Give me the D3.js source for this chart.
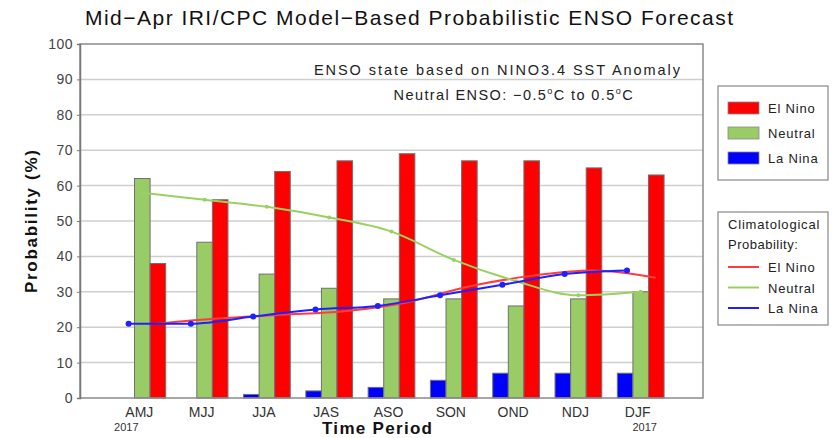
<!DOCTYPE html>
<html>
<head>
<meta charset="utf-8">
<script src="https://cdn.jsdelivr.net/npm/d3@7"></script>
<style>
  body { margin: 0; background: #fff; }
  text { font-family: "Liberation Sans", Arial, sans-serif; }
</style>
</head>
<body>
<div id="chart"></div>
<script>
/* mid-april IRI/CPC probabilistic ENSO forecast, bars plus climatology lines */

var seasons = ["AMJ", "MJJ", "JJA", "JAS", "ASO", "SON", "OND", "NDJ", "DJF"]
var elnino = [38, 56, 64, 67, 69, 67, 67, 65, 63]
var neutral = [62, 44, 35, 31, 28, 28, 26, 28, 30]
var lanina = [0, 0, 1, 2, 3, 5, 7, 7, 7]

// climatological probabilities
var clim_elnino = [21, 22.5, 23.5, 24.5, 27, 31.5, 34.5, 36, 34]
var clim_neutral = [58, 56, 54, 51, 47, 39, 33, 29, 30]
var clim_lanina = [21, 21, 23, 25, 26, 29, 32, 35, 36]

var y_ticks = [0, 10, 20, 30, 40, 50, 60, 70, 80, 90, 100]

var width = 832, height = 438;
var margin = {left: 80, right: 129, top: 44, bottom: 40};

var col_red = "#ff0000", col_green = "#99cc66", col_blue = "#0000ff";
var line_red = "#ff3b3b", line_green = "#99d160", line_blue = "#2020ff";

var svg = d3.select("#chart")
    .append("svg")
    .attr("width", width)
    .attr("height", height);

// x axis, categories sit at 1..9
const x = d3.scaleLinear()
    .domain([0, 10])
    .range([margin.left, width - margin.right]);

// y axis
const y = d3.scaleLinear()
    .domain([0, 100])
    .range([height - margin.bottom, margin.top]);

var bw = x(0.25) - x(0);

// grid lines
svg.append("g").selectAll("line")
    .data(y_ticks.slice(1, -1))
    .enter()
    .append("line")
    .attr("x1", x(0))
    .attr("x2", x(10))
    .attr("y1", function(d) { return y(d); })
    .attr("y2", function(d) { return y(d); })
    .attr("stroke", "#cfcfcf")
    .attr("stroke-width", 1.5);

// bars, three per season
function drawBars(vals, offset, color) {
    svg.append("g").selectAll("rect")
        .data(vals)
        .enter()
        .append("rect")
        .attr("x", function(d, i) { return x(i + 1 + offset) - bw / 2; })
        .attr("y", function(d) { return y(d); })
        .attr("width", bw)
        .attr("height", function(d) { return y(0) - y(d); })
        .attr("fill", color)
        .attr("stroke", "#707070")
        .attr("stroke-width", 1)
        .attr("display", function(d) { return d > 0 ? null : "none"; });
}
drawBars(lanina, -0.25, col_blue);
drawBars(neutral, 0, col_green);
drawBars(elnino, 0.25, col_red);

// climatology lines
function drawLine(vals, offset, color, r) {
    var lineGenerator = d3.line()
        .x(function(d, i) { return x(i + 1 + offset); })
        .y(function(d) { return y(d); })
        .curve(d3.curveMonotoneX);
    svg.append("path")
        .attr("d", lineGenerator(vals))
        .attr("fill", "none")
        .attr("stroke", color)
        .attr("stroke-width", 2)
        .attr("stroke-linejoin", "round");
    svg.append("g").selectAll("circle")
        .data(vals)
        .enter()
        .append("circle")
        .attr("cx", function(d, i) { return x(i + 1 + offset); })
        .attr("cy", function(d) { return y(d); })
        .attr("r", r)
        .attr("fill", color);
}
drawLine(clim_elnino, 0.24, line_red, 0);
drawLine(clim_neutral, 0, line_green, 2);
drawLine(clim_lanina, -0.22, line_blue, 3);

// frame
svg.append("rect")
    .attr("x", x(0))
    .attr("y", y(100))
    .attr("width", x(10) - x(0))
    .attr("height", y(0) - y(100))
    .attr("fill", "none")
    .attr("stroke", "#8a8a8a")
    .attr("stroke-width", 1.5);

// y axis
var yAxis = svg.append("g")
    .attr("transform", "translate(" + x(0) + ",0)")
    .call(d3.axisLeft(y).tickValues(y_ticks).tickSize(3).tickPadding(4));
yAxis.select(".domain").attr("stroke", "#777").attr("stroke-width", 1.5);
yAxis.selectAll(".tick line").attr("stroke", "#777");
yAxis.selectAll(".tick text")
    .attr("font-size", 14)
    .attr("font-family", "Liberation Sans, Arial, sans-serif")
    .attr("letter-spacing", 0.5)
    .attr("fill", "#444");

// x axis labels
svg.append("g").selectAll("text")
    .data(seasons)
    .enter()
    .append("text")
    .attr("x", function(d, i) { return x(i + 1) - 3; })
    .attr("y", 417)
    .attr("text-anchor", "middle")
    .attr("font-size", 14)
    .attr("fill", "#333")
    .text(function(d) { return d; });

svg.append("text")
    .attr("x", x(1) - 16)
    .attr("y", 431)
    .attr("text-anchor", "middle")
    .attr("font-size", 11)
    .attr("fill", "#333")
    .text("2017");
svg.append("text")
    .attr("x", x(9) + 4)
    .attr("y", 431)
    .attr("text-anchor", "middle")
    .attr("font-size", 11)
    .attr("fill", "#333")
    .text("2017");

// axis titles
svg.append("text")
    .attr("x", 322)
    .attr("y", 434)
    .attr("textLength", 110)
    .attr("lengthAdjust", "spacing")
    .attr("font-size", 17)
    .attr("font-weight", "bold")
    .attr("fill", "#111")
    .text("Time Period");

svg.append("text")
    .attr("transform", "translate(37,293) rotate(-90)")
    .attr("textLength", 143)
    .attr("lengthAdjust", "spacing")
    .attr("font-size", 17)
    .attr("font-weight", "bold")
    .attr("fill", "#111")
    .text("Probability (%)");

// title
svg.append("text")
    .attr("x", 85)
    .attr("y", 25)
    .attr("textLength", 648)
    .attr("lengthAdjust", "spacing")
    .attr("font-size", 21)
    .attr("fill", "#111")
    .text("Mid\u2212Apr IRI/CPC Model\u2212Based Probabilistic ENSO Forecast");

// annotation
svg.append("text")
    .attr("x", 314)
    .attr("y", 75)
    .attr("textLength", 366)
    .attr("lengthAdjust", "spacing")
    .attr("font-size", 14.5)
    .attr("fill", "#222")
    .text("ENSO state based on NINO3.4 SST Anomaly");

var note = svg.append("text")
    .attr("x", 634)
    .attr("y", 100)
    .attr("text-anchor", "end")
    .attr("font-size", 14.5)
    .attr("letter-spacing", 1.4)
    .attr("fill", "#222");
note.append("tspan").text("Neutral ENSO: \u22120.5");
note.append("tspan").attr("dy", -6).attr("font-size", 9).text("o");
note.append("tspan").attr("dy", 6).text("C to 0.5");
note.append("tspan").attr("dy", -6).attr("font-size", 9).text("o");
note.append("tspan").attr("dy", 6).text("C");

// legend for bars
var legend1 = [{name: "El Nino", color: col_red}, {name: "Neutral", color: col_green}, {name: "La Nina", color: col_blue}];
svg.append("rect")
    .attr("x", 718).attr("y", 86)
    .attr("width", 110).attr("height", 94)
    .attr("fill", "none").attr("stroke", "#888").attr("stroke-width", 1.2);

svg.append("g").selectAll("rect")
    .data(legend1)
    .enter()
    .append("rect")
    .attr("x", 728)
    .attr("y", function(d, i) { return 102 + i * 25; })
    .attr("width", 31)
    .attr("height", 12)
    .attr("fill", function(d) { return d.color; })
    .attr("stroke", "#888")
    .attr("stroke-width", 0.8);

svg.append("g").selectAll("text")
    .data(legend1)
    .enter()
    .append("text")
    .attr("x", 768)
    .attr("y", function(d, i) { return 113 + i * 25; })
    .attr("font-size", 13)
    .attr("letter-spacing", 0.8)
    .attr("fill", "#222")
    .text(function(d) { return d.name; });

// legend for climatology
var legend2 = [{name: "El Nino", color: line_red}, {name: "Neutral", color: line_green}, {name: "La Nina", color: line_blue}];
svg.append("rect")
    .attr("x", 718).attr("y", 212)
    .attr("width", 110).attr("height", 113)
    .attr("fill", "none").attr("stroke", "#888").attr("stroke-width", 1.2);

svg.append("text")
    .attr("x", 728).attr("y", 229)
    .attr("font-size", 13).attr("letter-spacing", 0.8).attr("fill", "#222")
    .text("Climatological");
svg.append("text")
    .attr("x", 728).attr("y", 249)
    .attr("font-size", 13).attr("letter-spacing", 0.5).attr("fill", "#222")
    .text("Probability:");

svg.append("g").selectAll("line")
    .data(legend2)
    .enter()
    .append("line")
    .attr("x1", 728)
    .attr("x2", 759)
    .attr("y1", function(d, i) { return 267 + i * 20.5; })
    .attr("y2", function(d, i) { return 267 + i * 20.5; })
    .attr("stroke", function(d) { return d.color; })
    .attr("stroke-width", 2);

svg.append("g").selectAll("text")
    .data(legend2)
    .enter()
    .append("text")
    .attr("x", 768)
    .attr("y", function(d, i) { return 272 + i * 20.5; })
    .attr("font-size", 13)
    .attr("letter-spacing", 0.8)
    .attr("fill", "#222")
    .text(function(d) { return d.name; });
</script>
</body>
</html>
